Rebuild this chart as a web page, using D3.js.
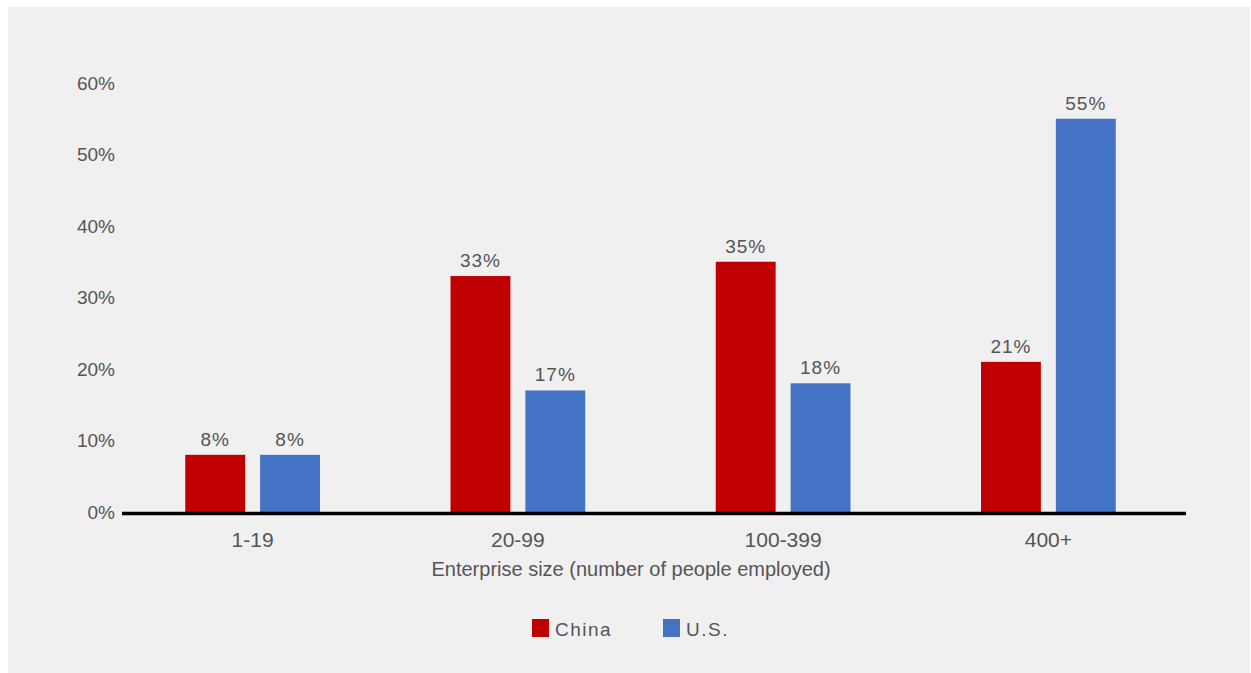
<!DOCTYPE html>
<html>
<head>
<meta charset="utf-8">
<script src="https://cdn.jsdelivr.net/npm/d3@7"></script>
<style>
  html, body { margin: 0; padding: 0; background: #ffffff; }
  svg { display: block; font-family: "Liberation Sans", Arial, sans-serif; }
</style>
</head>
<body>
<svg id="chart" width="1251" height="673"></svg>
<script>
// Share of enterprises by size, China vs. U.S.
const categories = ["1-19", "20-99", "100-399", "400+"];
const seriesNames = ["China", "U.S."];
const chinaValues = [8, 33, 35, 21];
const usValues = [8, 17, 18, 55];
const yTicks = [0, 10, 20, 30, 40, 50, 60];
const xTitle = "Enterprise size (number of people employed)";

const colors = { "China": "#c00000", "U.S.": "#4472c4" };
const textColor = "#555555";

const svg = d3.select("#chart");

// panel background
svg.append("rect")
  .attr("x", 8).attr("y", 7)
  .attr("width", 1242).attr("height", 666)
  .attr("fill", "#f0f0f0");

const y = d3.scaleLinear().domain([0, 60]).range([512, 83]);

const x0 = d3.scaleBand()
  .domain(categories)
  .range([120, 1181])
  .paddingInner(0.492)
  .paddingOuter(0.246);

const x1 = d3.scaleBand()
  .domain(seriesNames)
  .range([0, x0.bandwidth()])
  .paddingInner(0.2);

const rows = categories.map((c, i) => ({
  category: c,
  values: [
    { series: "China", value: chinaValues[i] },
    { series: "U.S.", value: usValues[i] }
  ]
}));

// y axis labels (no line, no ticks)
const yAxis = d3.axisLeft(y)
  .tickValues(yTicks)
  .tickFormat(d => d + "%")
  .tickSize(0)
  .tickPadding(0);

const yg = svg.append("g")
  .attr("transform", "translate(115,0)")
  .call(yAxis);
yg.select(".domain").remove();
yg.selectAll("text")
  .attr("fill", textColor)
  .attr("font-size", "19px")
  .attr("font-family", "Liberation Sans, Arial, sans-serif");

// bars
const groups = svg.append("g").selectAll("g")
  .data(rows)
  .join("g")
  .attr("transform", d => `translate(${x0(d.category)},0)`);

groups.selectAll("rect")
  .data(d => d.values)
  .join("rect")
  .attr("x", d => x1(d.series))
  .attr("y", d => y(d.value))
  .attr("width", x1.bandwidth())
  .attr("height", d => y(0) - y(d.value))
  .attr("fill", d => colors[d.series]);

groups.selectAll("text")
  .data(d => d.values)
  .join("text")
  .attr("x", d => x1(d.series) + x1.bandwidth() / 2)
  .attr("y", d => y(d.value) - 9)
  .attr("text-anchor", "middle")
  .attr("fill", textColor)
  .attr("font-size", "19px")
  .attr("letter-spacing", "1px")
  .text(d => d.value + "%");

// x axis category labels
const xAxis = d3.axisBottom(x0).tickSize(0).tickPadding(20);
const xg = svg.append("g")
  .attr("transform", `translate(0,${y(0)})`)
  .call(xAxis);
xg.select(".domain").remove();
xg.selectAll("text")
  .attr("fill", textColor)
  .attr("font-size", "21px")
  .attr("font-family", "Liberation Sans, Arial, sans-serif");

// baseline
svg.append("line")
  .attr("x1", 122).attr("x2", 1186)
  .attr("y1", y(0) + 1.5).attr("y2", y(0) + 1.5)
  .attr("stroke", "#000")
  .attr("stroke-width", 3.5);

// x axis title
svg.append("text")
  .attr("x", 631)
  .attr("y", 576)
  .attr("text-anchor", "middle")
  .attr("fill", textColor)
  .attr("font-size", "20px")
  .text(xTitle);

// legend
const legendX = d3.scaleOrdinal().domain(seriesNames).range([532, 663]);
const legend = svg.append("g").selectAll("g")
  .data(seriesNames)
  .join("g")
  .attr("transform", d => `translate(${legendX(d)},619)`);

legend.append("rect")
  .attr("width", 17).attr("height", 18)
  .attr("fill", d => colors[d]);

legend.append("text")
  .attr("x", 23)
  .attr("y", 17)
  .attr("fill", textColor)
  .attr("font-size", "19px")
  .attr("letter-spacing", "1.5px")
  .text(d => d);
</script>
</body>
</html>
